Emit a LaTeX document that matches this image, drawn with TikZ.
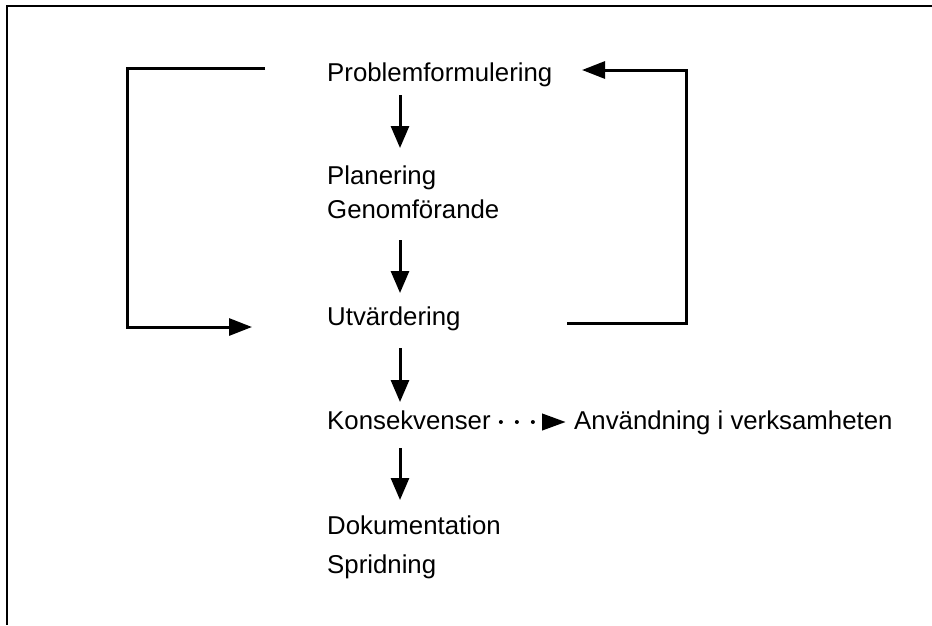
\documentclass[tikz,border=0pt]{standalone}
\usepackage{fontspec}
\setmainfont{Liberation Sans}
\usetikzlibrary{arrows.meta}
\begin{document}
\begin{tikzpicture}[x=1pt,y=-1pt,
  lbl/.style={anchor=base west,inner sep=0pt,font=\fontsize{25.8}{30}\selectfont},
  downarr/.style={line width=3pt,-{Triangle[width=18pt,length=22pt]}},
  looparr/.style={line width=3pt,line join=miter,-{Triangle[width=17pt,length=23pt]}},
  dotarr/.style={line width=4pt,line cap=round,dash pattern=on 0pt off 16pt,-{Triangle[width=16pt,length=24pt]}},
  frameline/.style={line width=2pt}]
\useasboundingbox (0,0) rectangle (932,625);
\draw[frameline] (932,6) -- (7,6) -- (7,625);
\node[lbl] (p)  at (327,81)  {Problemformulering};
\node[lbl] (pl) at (327,184) {Planering};
\node[lbl] (g)  at (327,218) {Genomförande};
\node[lbl] (u)  at (327,325) {Utvärdering};
\node[lbl] (k)  at (327,429) {Konsekvenser};
\node[lbl] (a)  at (574,429) {Användning i verksamheten};
\node[lbl] (d)  at (327,534) {Dokumentation};
\node[lbl] (s)  at (327,573) {Spridning};
\coordinate (lx) at (127,0);
\coordinate (rx) at (686,0);
\coordinate (l1) at ([shift={(-62,-13)}]p.base west);
\coordinate (l2) at ([shift={(-75,2)}]u.base west);
\coordinate (r1) at ([shift={(240,-2)}]u.base west);
\coordinate (r2) at ([shift={(255,-11)}]p.base west);
% down arrows
\draw[downarr] ([shift={(73,14)}]p.base west) -- ([shift={(73,-36)}]pl.base west);
\draw[downarr] ([shift={(73,22)}]g.base west) -- ([shift={(73,-32)}]u.base west);
\draw[downarr] ([shift={(73,23)}]u.base west) -- ([shift={(73,-27)}]k.base west);
\draw[downarr] ([shift={(73,19)}]k.base west) -- ([shift={(73,-34)}]d.base west);
% left loop
\draw[looparr] (l1) -- (lx |- l1) -- (lx |- l2) -- (l2);
% right loop
\draw[looparr] (r1) -- (rx |- r1) -- (rx |- r2) -- (r2);
% dotted arrow
\draw[dotarr,shorten <=10pt,shorten >=8pt] ([shift={(0,-7)}]k.base east) -- ([shift={(0,-7)}]a.base west);
\end{tikzpicture}
\end{document}
